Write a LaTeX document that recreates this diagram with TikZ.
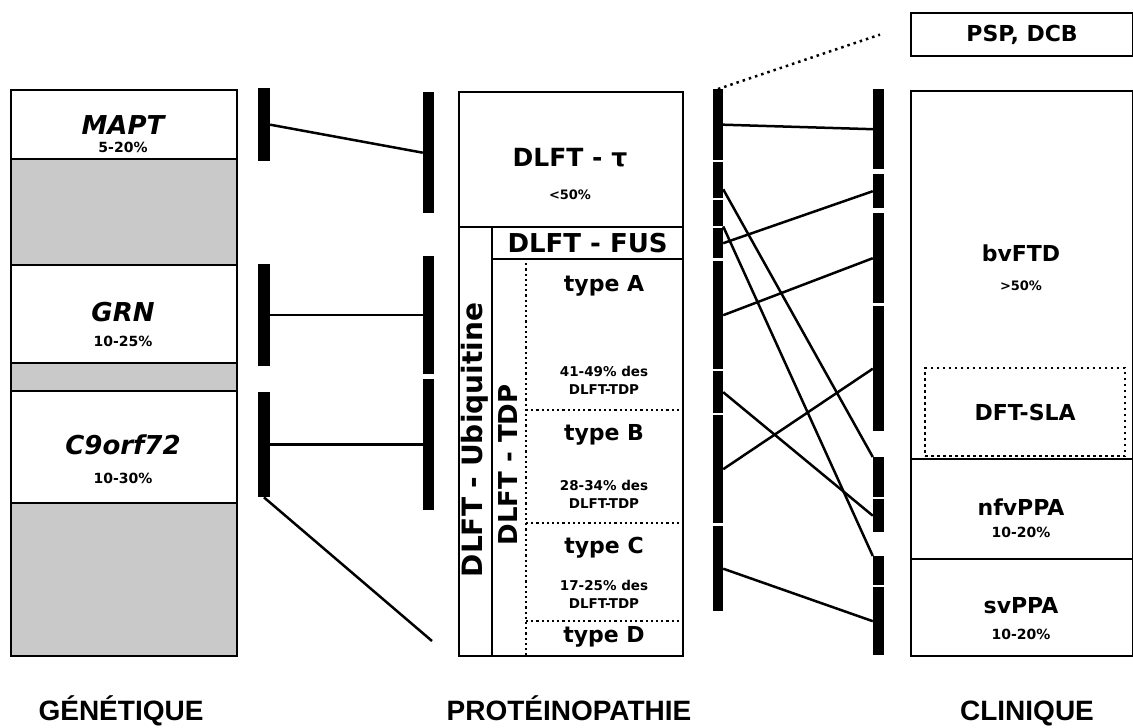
\documentclass[tikz,border=0pt]{standalone}
\usepackage{fontspec}
\setmainfont{DejaVu Sans}
\newfontfamily\headfont{Liberation Sans}
\usepackage{tikz}
\usetikzlibrary{calc}
\definecolor{cellgrey}{HTML}{C9C9C9}
\tikzstyle{cell} = [rectangle, draw, line width=2.2pt, inner sep=0pt, anchor=north west, fill=white]
\tikzstyle{greycell} = [cell, fill=cellgrey]
\tikzstyle{dotcell} = [cell, fill=none, line width=2.4pt, dash pattern=on 2.4pt off 3.6pt]
\tikzstyle{sep} = [draw, line width=2.2pt, dash pattern=on 2.2pt off 3pt]
\tikzstyle{bar} = [rectangle, fill=black, inner sep=0pt, anchor=north, minimum width=11pt]
\tikzstyle{link} = [draw, line width=2.5pt]
\tikzstyle{dotlink} = [link, dash pattern=on 2.5pt off 4pt]
\tikzstyle{genetxt} = [font=\bfseries\itshape\fontsize{26}{28}\selectfont]
\tikzstyle{bigtxt} = [font=\bfseries\fontsize{22}{24}\selectfont]
\tikzstyle{pcttxt} = [font=\bfseries\fontsize{14}{16}\selectfont]
\tikzstyle{destxt} = [font=\bfseries\fontsize{13.5}{18}\selectfont, align=center]
\tikzstyle{headtxt} = [font=\headfont\bfseries\fontsize{28}{30}\selectfont, anchor=base]

\begin{document}
\begin{tikzpicture}[x=1pt, y=-1pt]
    \useasboundingbox (0,0) rectangle (1133,728);

    % genetique
    \node[cell, minimum width=226pt, minimum height=69pt] at (10,89) (mapt) {};
    \node[greycell, minimum width=226pt, minimum height=106pt] at (10,158) (grey1) {};
    \node[cell, minimum width=226pt, minimum height=98pt] at (10,264) (grn) {};
    \node[greycell, minimum width=226pt, minimum height=28pt] at (10,362) (grey2) {};
    \node[cell, minimum width=226pt, minimum height=112pt] at (10,390) (c9) {};
    \node[greycell, minimum width=226pt, minimum height=153pt] at (10,502) (grey3) {};
    \node[genetxt] at (123,125) (maptname) {MAPT};
    \node[pcttxt] at (123,147) (maptpct) {5-20\%};
    \node[genetxt] at (123,312) (grnname) {GRN};
    \node[pcttxt] at (123,341) (grnpct) {10-25\%};
    \node[genetxt] at (123,445) (c9name) {C9orf72};
    \node[pcttxt] at (123,478) (c9pct) {10-30\%};

    % bars genetique -> proteinopathie
    \node[bar, minimum width=12pt, minimum height=73pt] at (264,88) (gl1) {};
    \node[bar, minimum width=12pt, minimum height=102pt] at (264,264) (gl2) {};
    \node[bar, minimum width=12pt, minimum height=105pt] at (264,392) (gl3) {};
    \node[bar, minimum height=121pt] at (428.5,92) (gr1) {};
    \node[bar, minimum height=118pt] at (428.5,256) (gr2) {};
    \node[bar, minimum height=131pt] at (428.5,379) (gr3) {};
    \coordinate (genend) at (432,641);
    \path[link] (gl1.east) -- (gr1.west);
    \path[link] (gl2.east) -- (gr2.west);
    \path[link] (gl3.east) -- (gr3.west);
    \path[link] (gl3.south) -- (genend);

    % proteinopathie
    \node[cell, minimum width=224pt, minimum height=564pt] at (458,91) (prot) {};
    \node[cell, minimum width=224pt, minimum height=135pt] at (458,91) (tau) {};
    \node[cell, minimum width=33pt, minimum height=429pt] at (458,226) (ubiq) {};
    \node[cell, minimum width=191pt, minimum height=32pt, font=\bfseries\fontsize{26}{28}\selectfont] at (491,226) (fus) {DLFT - FUS};
    \node[cell, minimum width=191pt, minimum height=397pt] at (491,258) (tdp) {};
    \path[sep] (526,258) -- (526,655);
    \foreach \y in {410,523,621}
        \path[sep] (526,\y) -- (682,\y);
    \node[font=\bfseries\fontsize{25}{27}\selectfont] at (570,158) (tauname) {DLFT - τ};
    \node[pcttxt, font=\bfseries\fontsize{13}{15}\selectfont] at (570,195) (taupct) {<50\%};
    \node[font=\bfseries\fontsize{28}{30}\selectfont, rotate=90] at (475,440) (ubiqname) {DLFT - Ubiquitine};
    \node[font=\bfseries\fontsize{26}{28}\selectfont, rotate=90] at (508,465) (tdpname) {DLFT - TDP};
    \node[bigtxt] at (604,286) (typea) {type A};
    \node[destxt] at (604,380) (typeapct) {41-49\% des\\DLFT-TDP};
    \node[bigtxt] at (604,435) (typeb) {type B};
    \node[destxt] at (604,494) (typebpct) {28-34\% des\\DLFT-TDP};
    \node[bigtxt] at (604,548) (typec) {type C};
    \node[destxt] at (604,594) (typecpct) {17-25\% des\\DLFT-TDP};
    \node[bigtxt] at (604,637) (typed) {type D};

    % bars proteinopathie -> clinique
    \foreach \n/\t/\h in {1/89/71, 2/162/36, 3/200/26, 4/228/30, 5/261/108, 6/371/42, 7/415/108, 8/526/85}
        \node[bar, minimum width=10pt, minimum height=\h pt] at (718,\t) (a\n) {};
    \foreach \n/\t/\h in {1/89/80, 2/174/34, 3/213/90, 4/306/125, 5/457/40, 6/499/33, 7/556/29, 8/587/68}
        \node[bar, minimum height=\h pt] at (878.5,\t) (b\n) {};
    \path[link] (a1.east) -- (b1.west);
    \path[link] ($(a2.east)!0.5!(a2.south east)$) -- (b5.north west);
    \path[link] (a3.south east) -- (b7.north west);
    \path[link] (a4.east) -- (b2.west);
    \path[link] (a5.east) -- (b3.west);
    \path[link] (a6.east) -- (b6.west);
    \path[link] (a7.east) -- (b4.west);
    \path[link] (a8.east) -- (b8.west);

    % clinique
    \node[cell, minimum width=222pt, minimum height=43pt, bigtxt] at (910,12) (psp) {PSP, DCB};
    \node[cell, minimum width=222pt, minimum height=368pt] at (910,90) (bvftd) {};
    \node[cell, minimum width=222pt, minimum height=100pt] at (910,458) (nfvppa) {};
    \node[cell, minimum width=222pt, minimum height=97pt] at (910,558) (svppa) {};
    \node[dotcell, minimum width=200pt, minimum height=88pt, bigtxt] at (924,367) (dftsla) {DFT-SLA};
    \node[bigtxt] at (1021,253) (bvftdname) {bvFTD};
    \node[pcttxt, font=\bfseries\fontsize{13}{15}\selectfont] at (1021,286) (bvftdpct) {>50\%};
    \node[bigtxt] at (1021,507) (nfvppaname) {nfvPPA};
    \node[pcttxt] at (1021,532) (nfvppapct) {10-20\%};
    \node[bigtxt] at (1021,606) (svppaname) {svPPA};
    \node[pcttxt] at (1021,634) (svppapct) {10-20\%};
    \coordinate (pspend) at ([xshift=-30pt]psp.west);
    \path[dotlink] (a1.north) -- (pspend);

    % titres
    \node[headtxt] at (121,720) (genet) {GÉNÉTIQUE};
    \node[headtxt] at (569,720) (proteo) {PROTÉINOPATHIE};
    \node[headtxt] at (1027,720) (clin) {CLINIQUE};
\end{tikzpicture}
\end{document}
